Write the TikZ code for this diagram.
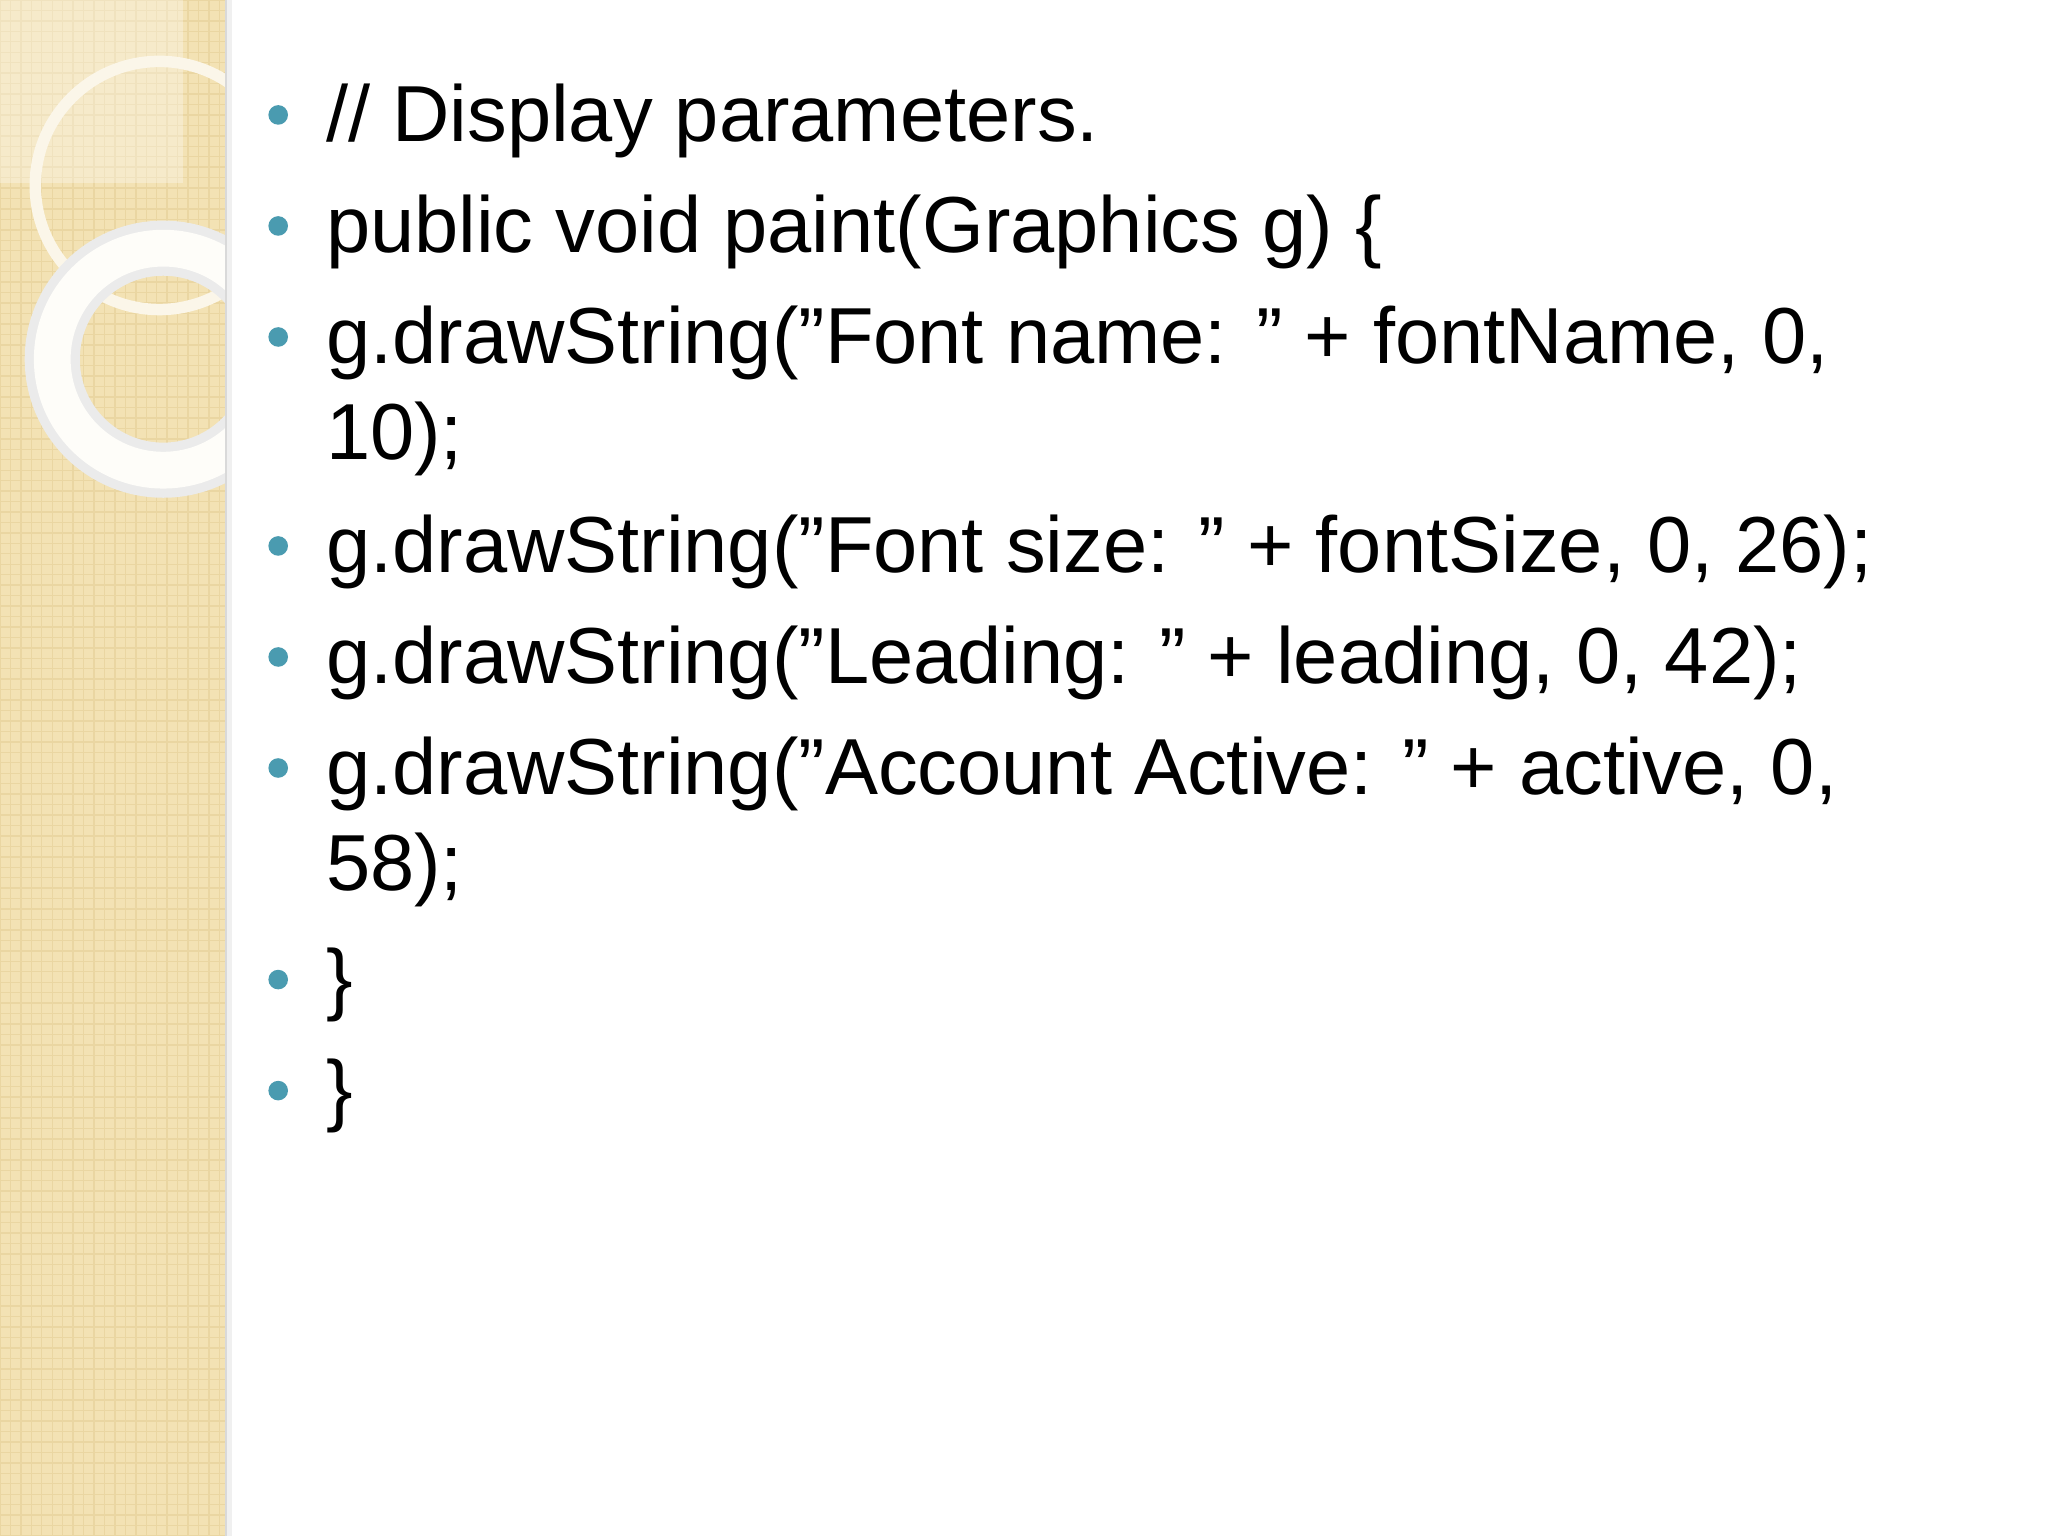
\documentclass[tikz,border=0pt]{standalone}
\usepackage{fontspec}
\setmainfont{Liberation Sans}
\definecolor{side}{HTML}{F3E2B4}
\definecolor{sidedot}{HTML}{EAD6A2}
\definecolor{bul}{HTML}{4A9BB0}
\newcommand{\qq}{\symbol{"22}}
\begin{document}
\begin{tikzpicture}[x=0.01cm,y=-0.01cm,
  txt/.style={anchor=base west,font=\fontsize{17.3pt}{19pt}\selectfont,inner sep=0pt},
  bullet/.style={circle,fill=bul,inner sep=0pt,minimum size=0.15cm}]
\useasboundingbox (0,0) rectangle (1568,1176);
\fill[white] (0,0) rectangle (1568,1176);
\begin{scope}
\clip (0,0) rectangle (173,1176);
\fill[side] (0,0) rectangle (173,1176);
\foreach \i in {0,8,...,1176} {\draw[sidedot,line width=0.3pt] (0,\i) -- (173,\i);}
\foreach \i in {0,8,...,173} {\draw[sidedot,line width=0.3pt] (\i,0) -- (\i,1176);}
\fill[white,opacity=0.3] (0,0) rectangle (140,140);
\draw[white!70!side,line width=2.5pt] (122,142) circle (95);
\draw[black!8,line width=12pt] (125,275) circle (85);
\draw[white!92!side,line width=8pt] (125,275) circle (85);
\end{scope}
\fill[black!6] (173,0) rectangle (178,1176);
\draw[black!15,line width=0.6pt] (173,0) -- (173,1176);
\foreach \n/\y/\t in {a/108/{// Display parameters.},
  b/193/{public void paint(Graphics g) \{},
  c/278/{g.drawString(\qq Font name: \qq\ + fontName, 0,},
  d/438/{g.drawString(\qq Font size: \qq\ + fontSize, 0, 26);},
  e/523/{g.drawString(\qq Leading: \qq\ + leading, 0, 42);},
  f/608/{g.drawString(\qq Account Active: \qq\ + active, 0,},
  g/770/{\}},
  h/855/{\}}}
{ \node[bullet] (b\n) at (213,\y-20) {};
  \node[txt] (t\n) at (249,\y) {\t}; }
\node[txt] (tc2) at (249,352) {10);};
\node[txt] (tf2) at (249,682) {58);};
\end{tikzpicture}
\end{document}
